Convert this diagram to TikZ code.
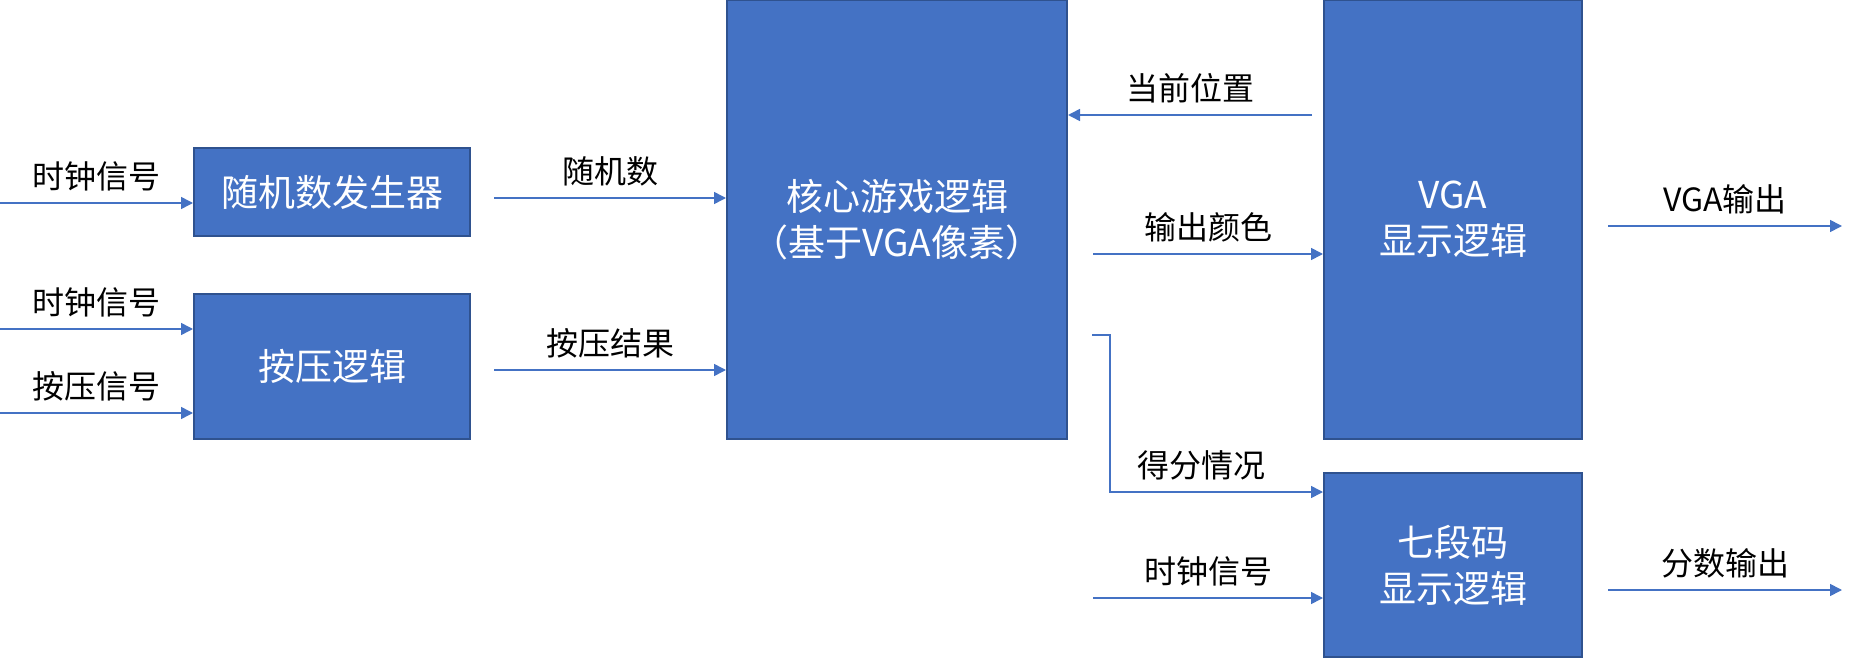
\documentclass[tikz,border=0pt]{standalone}
\usepackage{fontspec}
\newfontfamily\cjk{Noto Sans CJK SC}
\usetikzlibrary{arrows.meta}
\definecolor{boxblue}{HTML}{4472C4}
\definecolor{boxedge}{HTML}{2F528F}

\begin{document}
\begin{tikzpicture}[x=0.5pt,y=-0.5pt,
  blk/.style={draw=boxedge, line width=1pt, fill=boxblue, text=white, align=center,
    inner sep=0pt, font=\cjk\fontsize{18.5}{23}\selectfont},
  sig/.style={draw=boxblue, line width=0.8pt, -{Triangle[length=6pt,width=6pt]}},
  lbl/.style={font=\cjk\fontsize{16}{19}\selectfont, inner sep=0pt, yshift=13.5pt}]
  \useasboundingbox (0,0) rectangle (1854,658);

  %% blocks
  \node[blk, minimum width=138pt, minimum height=44pt] (rng) at (332,192) {随机数发生器};
  \node[blk, minimum width=138pt, minimum height=72.5pt] (press) at (332,366.5) {按压逻辑};
  \node[blk, minimum width=170pt, minimum height=219pt] (core) at (897,219.5) {核心游戏逻辑\\（基于VGA像素）};
  \node[blk, minimum width=129pt, minimum height=219.5pt] (vga) at (1453,219.5) {VGA\\显示逻辑};
  \node[blk, minimum width=129pt, minimum height=92pt] (seg) at (1453,565) {七段码\\显示逻辑};

  %% free ends
  \coordinate (clkA) at (0,203);
  \coordinate (clkB) at (0,329);
  \coordinate (key) at (0,413);
  \coordinate (rngOut) at (494,198);
  \coordinate (pressOut) at (494,370);
  \coordinate (posIn) at (1312,115);
  \coordinate (colorOut) at (1093,254);
  \coordinate (scoreOut) at (1092,335);
  \coordinate (clkC) at (1093,598);
  \coordinate (vgaOut) at (1608,226);
  \coordinate (vgaEnd) at (1842,226);
  \coordinate (numOut) at (1608,590);
  \coordinate (numEnd) at (1842,590);

  %% inputs
  \draw[sig] (clkA) -- (clkA -| rng.west) node[lbl, midway] {时钟信号};
  \draw[sig] (clkB) -- (clkB -| press.west) node[lbl, midway] {时钟信号};
  \draw[sig] (key) -- (key -| press.west) node[lbl, midway] {按压信号};

  %% into core
  \draw[sig] (rngOut) -- (rngOut -| core.west) node[lbl, midway] {随机数};
  \draw[sig] (pressOut) -- (pressOut -| core.west) node[lbl, midway] {按压结果};
  \draw[sig] (posIn) -- (posIn -| core.east) node[lbl, midway] {当前位置};

  %% out of core
  \draw[sig] (colorOut) -- (colorOut -| vga.west) node[lbl, midway] {输出颜色};
  \draw[sig] (scoreOut) -- ++(18,0) |- ([yshift=-10pt]seg.north west) node[lbl, pos=0.715] {得分情况};
  \draw[sig] (clkC) -- (clkC -| seg.west) node[lbl, midway] {时钟信号};

  %% outputs
  \draw[sig] (vgaOut) -- (vgaEnd) node[lbl, midway] {VGA输出};
  \draw[sig] (numOut) -- (numEnd) node[lbl, midway] {分数输出};

\end{tikzpicture}
\end{document}
